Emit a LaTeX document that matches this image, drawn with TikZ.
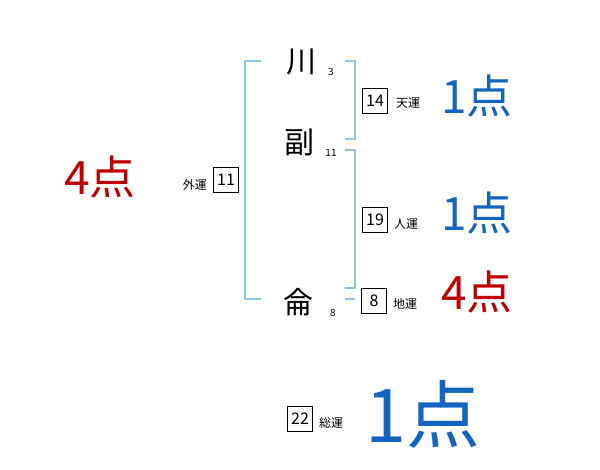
\documentclass[tikz,border=0pt]{standalone}
\usepackage{fontspec}
\setmainfont{Noto Sans CJK JP}
\definecolor{brk}{HTML}{8CC8EA}
\definecolor{ptblue}{HTML}{1565C0}
\definecolor{ptred}{HTML}{C00000}
\begin{document}
\begin{tikzpicture}[x=1pt,y=-1pt,
  brack/.style={draw=brk,line width=1.6pt},
  kanji/.style={font=\fontsize{30}{30}\selectfont,inner sep=0pt},
  strokes/.style={font=\fontsize{10}{10}\selectfont,inner sep=0pt},
  numbox/.style={draw,line width=0.8pt,minimum width=25pt,minimum height=25pt,inner sep=0pt,font=\fontsize{16}{16}\selectfont},
  unlabel/.style={font=\fontsize{12}{12}\selectfont,inner sep=0pt},
  score/.style={font=\fontsize{46}{46}\selectfont,inner sep=0pt},
  bigscore/.style={font=\fontsize{74}{74}\selectfont,inner sep=0pt}]
\useasboundingbox (0,0) rectangle (600,470);
% name characters
\node[kanji] (c1) at (301,62) {川};
\node[kanji] (c2) at (299,142) {副};
\node[kanji] (c3) at (298,302) {侖};
\node[strokes] (s1) at (331,72) {3};
\node[strokes] (s2) at (331,153) {11};
\node[strokes] (s3) at (333,313) {8};
% brackets
\draw[brack] (261,61) -- (245,61) -- (245,299) -- (261,299);
\draw[brack] (345,61) -- (355,61) -- (355,139) -- (345,139);
\draw[brack] (345,150) -- (355,150) -- (355,288) -- (345,288);
\draw[brack] (345,299) -- (355,299);
% boxes and labels
\node[numbox] (b14) at (375,101) {14};
\node[unlabel,anchor=west] (l14) at (396,103) {天運};
\node[numbox] (b19) at (375,220) {19};
\node[unlabel,anchor=west] (l19) at (394,224) {人運};
\node[numbox] (b8) at (374,301) {8};
\node[unlabel,anchor=west] (l8) at (393,304) {地運};
\node[numbox] (b11) at (226,180) {11};
\node[unlabel,anchor=east] (l11) at (207,185) {外運};
\node[numbox] (b22) at (300,419) {22};
\node[unlabel,anchor=west] (l22) at (319,423) {総運};
% scores
\node[score,text=ptblue] (p1) at (477,96) {1点};
\node[score,text=ptblue] (p2) at (477,213) {1点};
\node[score,text=ptred] (p3) at (477,292) {4点};
\node[score,text=ptred] (p4) at (100,177) {4点};
\node[bigscore,text=ptblue] (p5) at (423,414) {1点};
\end{tikzpicture}
\end{document}
